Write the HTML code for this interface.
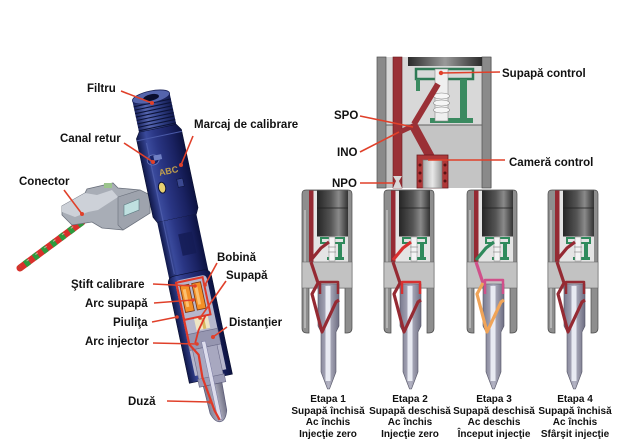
<!DOCTYPE html>
<html><head><meta charset="utf-8"><style>
html,body{margin:0;padding:0;background:#fff;}
svg{display:block;}
text{font-family:"Liberation Sans",Arial,sans-serif;font-weight:bold;fill:#111;}
</style></head><body>
<svg width="642" height="444" viewBox="0 0 642 444" xmlns="http://www.w3.org/2000/svg">
<defs>
<linearGradient id="navy" x1="0" y1="0" x2="1" y2="0">
<stop offset="0" stop-color="#10184a"/><stop offset="0.22" stop-color="#3a4a9c"/><stop offset="0.42" stop-color="#2a3684"/><stop offset="0.75" stop-color="#1a2262"/><stop offset="1" stop-color="#0c1240"/>
</linearGradient>
<linearGradient id="thr" x1="0" y1="0" x2="1" y2="0">
<stop offset="0" stop-color="#1a2460"/><stop offset="0.3" stop-color="#5666b0"/><stop offset="0.6" stop-color="#34448c"/><stop offset="1" stop-color="#121a50"/>
</linearGradient>
<linearGradient id="dkg" x1="0" y1="0" x2="1" y2="0">
<stop offset="0" stop-color="#262626"/><stop offset="0.45" stop-color="#555"/><stop offset="0.7" stop-color="#8a8a8a"/><stop offset="1" stop-color="#333"/>
</linearGradient>
<linearGradient id="dkh" x1="0" y1="0" x2="1" y2="0">
<stop offset="0" stop-color="#2a2a2a"/><stop offset="0.5" stop-color="#9a9a9a"/><stop offset="1" stop-color="#2a2a2a"/>
</linearGradient>
<linearGradient id="noz" x1="0" y1="0" x2="1" y2="0">
<stop offset="0" stop-color="#7a7a8e"/><stop offset="0.5" stop-color="#b4b4c4"/><stop offset="1" stop-color="#6e6e82"/>
</linearGradient>
<linearGradient id="pist" x1="0" y1="0" x2="1" y2="0">
<stop offset="0" stop-color="#a8a8a8"/><stop offset="0.5" stop-color="#e8e8e8"/><stop offset="1" stop-color="#9a9a9a"/>
</linearGradient>
<g id="sb">
 <path d="M-25,4 Q-25,0 -21,0 L21,0 Q25,0 25,4 L25,138 Q25,143 20,143 L18,143 L18,98 L-18,98 L-18,143 L-20,143 Q-25,143 -25,138 Z" fill="#8e8e8e" stroke="#4a4a4a" stroke-width="0.7"/>
 <rect x="-23" y="20" width="2" height="118" fill="#b4b4b4"/>
 <rect x="-18" y="1" width="39" height="71" fill="#e4e4e4"/>
 <rect x="-18" y="0.5" width="4.5" height="72" fill="#952a33"/>
 <rect x="-10" y="0.5" width="31" height="46" fill="url(#dkg)"/>
 <line x1="-10" y1="18" x2="21" y2="18" stroke="#1e1e1e" stroke-width="0.7"/>
 <rect x="-6" y="48" width="23" height="5" fill="none" stroke="#2f8a5c" stroke-width="2"/>
 <rect x="11" y="53" width="4" height="17" fill="#2f8a5c"/>
 <rect x="0" y="67" width="17" height="3" fill="#2f8a5c"/>
 <rect x="2" y="47" width="6" height="24" fill="#f4f4f4" stroke="#888" stroke-width="0.5"/>
 <line x1="1" y1="57" x2="9" y2="57" stroke="#999" stroke-width="0.8"/>
 <line x1="1" y1="62" x2="9" y2="62" stroke="#999" stroke-width="0.8"/>
 <rect x="-25" y="72" width="50" height="26" fill="#c2c2c2" stroke="#6a6a6a" stroke-width="0.6"/>
 <path d="M-9,94 L12,94 L12,136 L9,142 L9,182 L2.5,199 L0.5,199 L-6,182 L-6,142 L-9,136 Z" fill="url(#noz)" stroke="#555566" stroke-width="0.6"/>
 <rect x="-1.5" y="96" width="5" height="95" fill="#e8eaf2"/>
</g>
</defs>

<!-- connector wires -->
<line x1="82" y1="222" x2="20" y2="268" stroke="#d8302c" stroke-width="7" stroke-linecap="round"/>
<line x1="82" y1="222" x2="20" y2="268" stroke="#2e9a3e" stroke-width="7" stroke-dasharray="5 6"/>
<line x1="82" y1="220" x2="20" y2="266" stroke="#f6c0c0" stroke-width="1" stroke-dasharray="3 8" opacity="0.7"/>
<!-- connector -->
<polygon points="62,206 85,193 87,189 113,183 118,188 140,190 150,195 150,213 123,230 102,228 92,222 72,225 62,215" fill="#a8adb6" stroke="#6a707c" stroke-width="0.8"/>
<polygon points="62,206 85,193 97,195 112,190 118,197 98,210 88,212 75,217 62,212" fill="#cdd1d8"/>
<polygon points="118,197 140,190 150,195 150,213 123,230 118,225" fill="#9ea3ad" stroke="#6a707c" stroke-width="0.6"/>
<polygon points="124,205 139,199 139,210 124,216" fill="#bfe0e0" stroke="#5a7a80" stroke-width="0.6"/>
<rect x="104" y="183" width="8" height="5" fill="#9bc48c"/>

<!-- main injector -->
<g transform="translate(151,97) rotate(-12)">
 <rect x="-19" y="0" width="38" height="34" fill="url(#thr)"/>
 <g stroke="#0c1338" stroke-width="1.1">
  <line x1="-19" y1="6" x2="19" y2="6"/><line x1="-19" y1="9.5" x2="19" y2="9.5"/><line x1="-19" y1="13" x2="19" y2="13"/>
  <line x1="-19" y1="16.5" x2="19" y2="16.5"/><line x1="-19" y1="20" x2="19" y2="20"/><line x1="-19" y1="23.5" x2="19" y2="23.5"/>
  <line x1="-19" y1="27" x2="19" y2="27"/><line x1="-19" y1="30.5" x2="19" y2="30.5"/>
 </g>
 <ellipse cx="0" cy="0" rx="19" ry="6" fill="#5464ac" stroke="#1a2258" stroke-width="0.8"/>
 <ellipse cx="0" cy="0.5" rx="8" ry="3.2" fill="#0a0e2e"/>
 <path d="M-19,32 L-23,38 L-23,118 L-20,124 L20,124 L23,118 L23,38 L19,32 Z" fill="url(#navy)" stroke="#0a0f30" stroke-width="0.6"/>
 <line x1="-23" y1="40" x2="23" y2="40" stroke="#4a5aa8" stroke-width="1"/>
 <ellipse cx="-11" cy="62" rx="6" ry="5" fill="#1a2468" stroke="#6a7ac0" stroke-width="0.8"/>
 <rect x="-10" y="58" width="8" height="5" fill="#7080c4"/>
 <text x="-8" y="79" font-size="9" style="fill:#c2a04c">ABC</text>
 <ellipse cx="-8" cy="91" rx="3.6" ry="5.5" fill="#e8d070" stroke="#0c1238" stroke-width="1"/>
 <rect x="8" y="86" width="6" height="8" fill="#3a4890" stroke="#0c1238" stroke-width="0.5"/>
 <rect x="-20" y="124" width="40" height="62" fill="url(#navy)"/>
 <rect x="-2" y="140" width="14" height="22" fill="#141c54" opacity="0.8"/>
 <path d="M-22,188 Q-22,180 -14,180 L14,180 Q22,180 22,188 L22,288 L-22,288 Z" fill="url(#navy)" stroke="#0a0f30" stroke-width="0.6"/>
 <path d="M-15,190 Q-15,185 -10,185 L12,185 Q17,185 17,190 L17,282 L-15,282 Z" fill="#b6b6cc"/>
 <rect x="-14" y="187" width="27" height="38" fill="none" stroke="#e03828" stroke-width="2"/>
 <rect x="-11" y="191" width="9" height="27" fill="#f39028" stroke="#7a3410" stroke-width="0.8"/>
 <rect x="1" y="191" width="9" height="27" fill="#f39028" stroke="#7a3410" stroke-width="0.8"/>
 <rect x="-9" y="195" width="3" height="18" fill="#fbc070"/>
 <rect x="3" y="195" width="3" height="18" fill="#fbc070"/>
 <rect x="-4" y="226" width="14" height="12" fill="#eee6c4"/>
 <rect x="3" y="227" width="3" height="11" fill="#d8b860"/>
 <rect x="-15" y="240" width="32" height="16" fill="#9696b0" stroke="#6a6a88" stroke-width="0.6"/>
 <rect x="-12" y="256" width="25" height="32" fill="#a8a8c0" stroke="#6a6a88" stroke-width="0.6"/>
 <rect x="-13" y="286" width="27" height="8" fill="#9c9cb6" stroke="#6a6a88" stroke-width="0.6"/>
 <path d="M-9,294 L10,294 L9,322 Q6,332 0.5,332 Q-5,332 -8,322 Z" fill="url(#noz)" stroke="#5a5a78" stroke-width="0.7"/>
 <rect x="-1.5" y="250" width="4" height="80" fill="#dcdcec" stroke="#7878a0" stroke-width="0.5"/>
 <path d="M-14,186 L-14,250 L-7,262 L-8,285 L-3,320 L0,330" fill="none" stroke="#e03828" stroke-width="2.2"/>
 <path d="M8,225 L-2,238 L-8,250" fill="none" stroke="#e03828" stroke-width="1.8"/>
 <line x1="-14" y1="44" x2="-14" y2="178" stroke="#5a6ab8" stroke-width="1.2" opacity="0.6"/>
</g>

<!-- top control valve -->
<rect x="377" y="57" width="115" height="131" fill="#d8d8d8"/>
<rect x="386" y="125" width="96" height="63" fill="#c4c4c4"/>
<rect x="377" y="57" width="9" height="131" fill="#8a8a8a" stroke="#505050" stroke-width="0.7"/>
<rect x="482" y="57" width="9" height="131" fill="#8a8a8a" stroke="#505050" stroke-width="0.7"/>
<line x1="386" y1="125" x2="482" y2="125" stroke="#606060" stroke-width="1"/>
<rect x="393" y="57" width="9" height="131" fill="#9a3036" stroke="#6a1a1e" stroke-width="0.6"/>
<path d="M393,176 L402,176 L399,181 L402,188 L393,188 L396,181 Z" fill="#d8d8d8"/>
<rect x="408" y="57" width="74" height="9" fill="url(#dkh)"/>
<rect x="416" y="69" width="57" height="10" fill="none" stroke="#2e7a55" stroke-width="2.5"/>
<rect x="460" y="79" width="7" height="44" fill="#3a8a60"/>
<rect x="430" y="118" width="43" height="5" fill="#3a8a60"/>
<rect x="416" y="79" width="4" height="12" fill="#3a8a60"/>
<rect x="435" y="69" width="13" height="52" fill="#efefef" stroke="#888" stroke-width="0.6"/>
<ellipse cx="441.5" cy="96" rx="8" ry="3" fill="#f6f6f6" stroke="#888" stroke-width="0.6"/>
<ellipse cx="441.5" cy="103" rx="8" ry="3" fill="#f6f6f6" stroke="#888" stroke-width="0.6"/>
<ellipse cx="441.5" cy="110" rx="8" ry="3" fill="#f6f6f6" stroke="#888" stroke-width="0.6"/>
<line x1="438" y1="84" x2="414" y2="124" stroke="#9a3036" stroke-width="6"/>
<line x1="413" y1="125" x2="431" y2="158" stroke="#9a3036" stroke-width="9"/>
<line x1="400" y1="132" x2="415" y2="125" stroke="#9a3036" stroke-width="5"/>
<rect x="417" y="155" width="31" height="33" fill="#b03838" stroke="#6a1a1e" stroke-width="0.8"/>
<rect x="423" y="160" width="19" height="28" fill="url(#pist)" stroke="#777" stroke-width="0.6"/>
<g fill="#5a1214"><circle cx="420" cy="165" r="1.5"/><circle cx="420" cy="173" r="1.5"/><circle cx="420" cy="181" r="1.5"/><circle cx="445" cy="165" r="1.5"/><circle cx="445" cy="173" r="1.5"/><circle cx="445" cy="181" r="1.5"/></g>

<!-- stage injectors -->
<use href="#sb" transform="translate(327,190)"/>
<use href="#sb" transform="translate(409,190)"/>
<use href="#sb" transform="translate(492,190)"/>
<use href="#sb" transform="translate(573,190)"/>

<g transform="translate(327,190)" fill="none" stroke-width="3.2" stroke-linejoin="round">
 <path d="M-16,70 L-6,58 L2,52" stroke="#952a33"/>
 <path d="M-16,72 L-9,93 L-15,104 L-5,142 L9,112 L12,110" stroke="#952a33"/>
 <path d="M-7,104 L-7,92 L11,92 L11,104" stroke="#952a33" stroke-width="2.5"/>
</g>
<g transform="translate(409,190)" fill="none" stroke-width="3.2" stroke-linejoin="round">
 <path d="M-16,72 L-9,93 L-15,104 L-5,142 L9,112 L12,110" stroke="#952a33"/>
 <path d="M-16,70 L-6,58 L2,52" stroke="#d83030"/>
 <path d="M-7,104 L-7,92 L11,92 L11,104" stroke="#d83030" stroke-width="2.5"/>
</g>
<g transform="translate(492,190)" fill="none" stroke-width="3.2" stroke-linejoin="round">
 <path d="M-16,70 L-6,58 L2,52" stroke="#2f8a5c"/>
 <path d="M-16,72 L-9,93" stroke="#d0508a"/>
 <path d="M-9,93 L-15,104 L-5,142 L9,112 L12,110" stroke="#f0a458"/>
 <path d="M-7,104 L-7,90 L11,90 L11,104" stroke="#d0508a" stroke-width="2.5"/>
</g>
<g transform="translate(573,190)" fill="none" stroke-width="3.2" stroke-linejoin="round">
 <path d="M-16,70 L-6,58 L2,52" stroke="#952a33"/>
 <path d="M-16,72 L-9,93 L-15,104 L-5,142 L9,112 L12,110" stroke="#952a33"/>
 <path d="M-7,104 L-7,92 L11,92 L11,104" stroke="#952a33" stroke-width="2.5"/>
</g>

<!-- leader lines -->
<g stroke="#e0402a" stroke-width="1.6" fill="none">
 <line x1="121" y1="91" x2="152" y2="103"/>
 <line x1="124" y1="143" x2="153" y2="162"/>
 <line x1="193" y1="136" x2="181" y2="165"/>
 <line x1="64" y1="190" x2="82" y2="214"/>
 <line x1="217" y1="263" x2="205" y2="285"/>
 <line x1="226" y1="281" x2="200" y2="318"/>
 <line x1="153" y1="284" x2="195" y2="286"/>
 <line x1="154" y1="303" x2="193" y2="300"/>
 <line x1="152" y1="322" x2="177" y2="317"/>
 <line x1="227" y1="327" x2="213" y2="337"/>
 <line x1="153" y1="343" x2="197" y2="344"/>
 <line x1="167" y1="401" x2="210" y2="402"/>
 <line x1="441" y1="73" x2="500" y2="72"/>
 <line x1="360" y1="116" x2="413" y2="127"/>
 <line x1="360" y1="152" x2="399" y2="132"/>
 <line x1="428" y1="160" x2="505" y2="160"/>
 <line x1="360" y1="183" x2="394" y2="183"/>
</g>
<g fill="#e0402a">
 <circle cx="152" cy="103" r="2"/><circle cx="153" cy="162" r="2"/><circle cx="181" cy="165" r="2"/><circle cx="82" cy="214" r="2"/>
 <circle cx="205" cy="285" r="1.8"/><circle cx="200" cy="318" r="1.8"/><circle cx="195" cy="286" r="1.8"/><circle cx="193" cy="300" r="1.8"/>
 <circle cx="177" cy="317" r="1.8"/><circle cx="213" cy="337" r="2"/><circle cx="197" cy="344" r="1.8"/><circle cx="210" cy="402" r="1.8"/>
 <circle cx="441" cy="73" r="2.2"/>
</g>

<!-- labels -->
<g font-size="11.5">
 <text x="87" y="92">Filtru</text>
 <text x="60" y="142">Canal retur</text>
 <text x="194" y="128">Marcaj de calibrare</text>
 <text x="19" y="185">Conector</text>
 <text x="217" y="261">Bobină</text>
 <text x="226" y="279">Supapă</text>
 <text x="71" y="288">Ştift calibrare</text>
 <text x="85" y="307">Arc supapă</text>
 <text x="113" y="326">Piuliţa</text>
 <text x="229" y="326">Distanţier</text>
 <text x="85" y="345">Arc injector</text>
 <text x="128" y="405">Duză</text>
 <text x="502" y="77">Supapă control</text>
 <text x="334" y="119">SPO</text>
 <text x="337" y="156">INO</text>
 <text x="509" y="166">Cameră control</text>
 <text x="332" y="187">NPO</text>
</g>
<g font-size="10" text-anchor="middle">
 <text x="328" y="402">Etapa 1</text>
 <text x="328" y="414">Supapă închisă</text>
 <text x="328" y="425">Ac închis</text>
 <text x="328" y="437">Injecţie zero</text>
 <text x="410" y="402">Etapa 2</text>
 <text x="410" y="414">Supapă deschisă</text>
 <text x="410" y="425">Ac închis</text>
 <text x="410" y="437">Injecţie zero</text>
 <text x="494" y="402">Etapa 3</text>
 <text x="494" y="414">Supapă deschisă</text>
 <text x="494" y="425">Ac deschis</text>
 <text x="494" y="437">Început injecţie</text>
 <text x="575" y="402">Etapa 4</text>
 <text x="575" y="414">Supapă închisă</text>
 <text x="575" y="425">Ac închis</text>
 <text x="575" y="437">Sfârşit injecţie</text>
</g>
</svg>
</body></html>
